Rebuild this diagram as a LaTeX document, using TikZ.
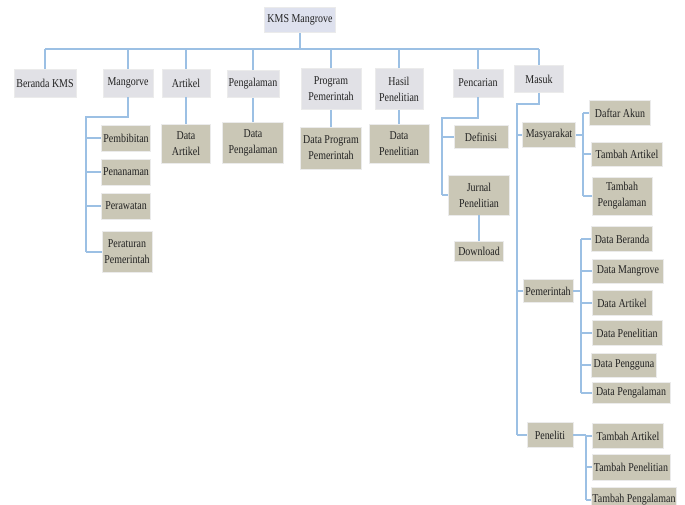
\documentclass[tikz,border=0pt]{standalone}
\usepackage{fontspec}
\setmainfont{Liberation Serif}[FakeStretch=0.83]
\definecolor{rootc}{HTML}{DEE1EE}
\definecolor{lonec}{HTML}{E1E1E6}
\definecolor{ltwoc}{HTML}{CAC7B6}
\definecolor{linec}{HTML}{9CC0E4}
\definecolor{txtc}{HTML}{222222}
\tikzset{
  box/.style={inner sep=0pt, align=center, text=txtc, draw=white!92!black, line width=0.8pt,
    font=\fontsize{12}{16}\selectfont},
  rootbox/.style={box, fill=rootc},
  lone/.style={box, fill=lonec},
  ltwo/.style={box, fill=ltwoc},
  conn/.style={draw=linec, line width=1.2pt},
}
\begin{document}
\begin{tikzpicture}[x=1pt,y=-1pt]
\useasboundingbox (0,0) rectangle (685,504);
\fill[white] (0,0) rectangle (685,504);
% root and level 1
\node[rootbox, minimum width=71, minimum height=25] (root) at (300,20) {KMS Mangrove};
\node[lone, minimum width=62, minimum height=28] (ber) at (45,83) {Beranda KMS};
\node[lone, minimum width=50, minimum height=28] (mang) at (128,83) {Mangorve};
\node[lone, minimum width=48, minimum height=28] (art) at (186,83) {Artikel};
\node[lone, minimum width=52, minimum height=27] (peng) at (253,84) {Pengalaman};
\node[lone, minimum width=60, minimum height=41] (prog) at (331,89) {Program\\Pemerintah};
\node[lone, minimum width=48, minimum height=41] (hasil) at (399,89) {Hasil\\Penelitian};
\node[lone, minimum width=50, minimum height=28] (penc) at (478,83) {Pencarian};
\node[lone, minimum width=49, minimum height=27] (masuk) at (539,79) {Masuk};
% level 2
\node[ltwo, minimum width=49, minimum height=26] (pemb) at (126,138) {Pembibitan};
\node[ltwo, minimum width=49, minimum height=26] (penan) at (126,172) {Penanaman};
\node[ltwo, minimum width=49, minimum height=26] (peraw) at (126,206) {Perawatan};
\node[ltwo, minimum width=50, minimum height=41] (perat) at (127,252) {Peraturan\\Pemerintah};
\node[ltwo, minimum width=49, minimum height=39] (dart) at (186,144) {Data\\Artikel};
\node[ltwo, minimum width=61, minimum height=41] (dpeng) at (253,143) {Data\\Pengalaman};
\node[ltwo, minimum width=61, minimum height=42] (dprog) at (331,148) {Data Program\\Pemerintah};
\node[ltwo, minimum width=60, minimum height=39] (dpen) at (399,144) {Data\\Penelitian};
\node[ltwo, minimum width=54, minimum height=23] (def) at (481,137) {Definisi};
\node[ltwo, minimum width=61, minimum height=40] (jurnal) at (479,195) {Jurnal\\Penelitian};
\node[ltwo, minimum width=49, minimum height=20] (down) at (479,251) {Download};
\node[ltwo, minimum width=53, minimum height=25] (masy) at (549,135) {Masyarakat};
\node[ltwo, minimum width=50, minimum height=23] (pem) at (548,291) {Pemerintah};
\node[ltwo, minimum width=46, minimum height=25] (penel) at (550,435) {Peneliti};
% level 3
\node[ltwo, minimum width=61, minimum height=25] (daftar) at (620,113) {Daftar Akun};
\node[ltwo, minimum width=71, minimum height=24] (tart) at (627,154) {Tambah Artikel};
\node[ltwo, minimum width=60, minimum height=38] (tpeng) at (622,196) {Tambah\\Pengalaman};
\node[ltwo, minimum width=61, minimum height=25] (dber) at (622,239) {Data Beranda};
\node[ltwo, minimum width=71, minimum height=24] (dmang) at (628,271) {Data Mangrove};
\node[ltwo, minimum width=60, minimum height=25] (dartb) at (622,303) {Data Artikel};
\node[ltwo, minimum width=70, minimum height=25] (dpenb) at (627,333) {Data Penelitian};
\node[ltwo, minimum width=65, minimum height=24] (dpengg) at (624,365) {Data Pengguna};
\node[ltwo, minimum width=78, minimum height=21] (dpengal) at (631,393) {Data Pengalaman};
\node[ltwo, minimum width=71, minimum height=25] (tartb) at (628,436) {Tambah Artikel};
\node[ltwo, minimum width=78, minimum height=26] (tpen) at (631,467) {Tambah Penelitian};
\node[ltwo, minimum width=85, minimum height=26] (tpengal) at (634,500) {Tambah Pengalaman};
% connectors
\coordinate (bus) at (0,49);
\draw[conn] (root.south) -- (root.south |- bus);
\draw[conn] (ber.north |- bus) -- (masuk.north |- bus);
\foreach \n in {ber,mang,art,peng,prog,hasil,penc,masuk}
  \draw[conn] (\n.north) -- (\n.north |- bus);
% Mangorve
\coordinate (mt) at (86,117);
\draw[conn] (mang.south) |- (mt) -- (mt |- perat.west);
\foreach \n in {pemb,penan,peraw,perat}
  \draw[conn] (mt |- \n.west) -- (\n.west);
\draw[conn] (art.south) -- (dart.north);
\draw[conn] (peng.south) -- (dpeng.north);
\draw[conn] (prog.south) -- (dprog.north);
\draw[conn] (hasil.south) -- (dpen.north);
% Pencarian
\coordinate (pt) at (442,118);
\draw[conn] (penc.south) |- (pt) -- (pt |- jurnal.west);
\foreach \n in {def,jurnal}
  \draw[conn] (pt |- \n.west) -- (\n.west);
\draw[conn] (jurnal.south) -- (down.north);
% Masuk
\coordinate (mkt) at (517,104);
\draw[conn] (masuk.south) |- (mkt) -- (mkt |- penel.west);
\foreach \n in {masy,pem,penel}
  \draw[conn] (mkt |- \n.west) -- (\n.west);
% Masyarakat
\coordinate (mst) at (583,135);
\draw[conn] (masy.east) -- (mst |- masy.east);
\draw[conn] (mst |- daftar.west) -- (mst |- tpeng.west);
\foreach \n in {daftar,tart,tpeng}
  \draw[conn] (mst |- \n.west) -- (\n.west);
% Pemerintah
\coordinate (pmt) at (581,291);
\draw[conn] (pem.east) -- (pmt |- pem.east);
\draw[conn] (pmt |- dber.west) -- (pmt |- dpengal.west);
\foreach \n in {dber,dmang,dartb,dpenb,dpengg,dpengal}
  \draw[conn] (pmt |- \n.west) -- (\n.west);
% Peneliti
\coordinate (pnt) at (586,435);
\draw[conn] (penel.east) -- (pnt |- penel.east);
\draw[conn] (pnt |- tartb.west) -- (pnt |- tpengal.west);
\foreach \n in {tartb,tpen,tpengal}
  \draw[conn] (pnt |- \n.west) -- (\n.west);
\end{tikzpicture}
\end{document}
